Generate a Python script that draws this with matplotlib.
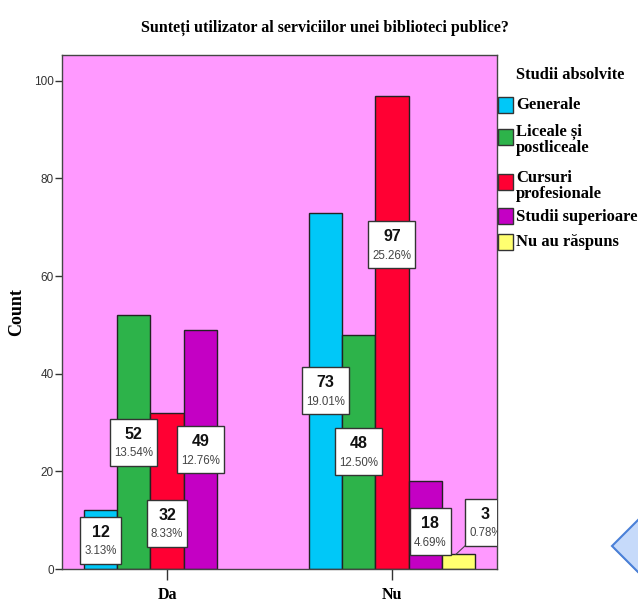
import matplotlib
matplotlib.use("Agg")
import matplotlib.pyplot as plt
from matplotlib.patches import Rectangle, Polygon
from matplotlib.transforms import offset_copy, IdentityTransform
from decimal import Decimal, ROUND_HALF_UP
import numpy as np

# ---- data ----
groups = ["Da", "Nu"]
categories = ["Generale", "Liceale și\npostliceale", "Cursuri\nprofesionale",
              "Studii superioare", "Nu au răspuns"]
counts_da = [12, 52, 32, 49, 0]
counts_nu = [73, 48, 97, 18, 3]
yticks = [0, 20, 40, 60, 80, 100]

# ---- style / layout ----
colors = ["#00C8F8", "#2DB34A", "#FF0033", "#C400C4", "#FFFF70"]
bg = "#FF99FF"
# label anchor heights (data units) and horizontal nudges (data units)
label_y = [[5.9, 26, 9.4, 24.4, None], [36.5, 24, 66.4, 7.6, 9.6]]
label_dx = [[0, 0, 0, 0, 0], [0, 0, 0, 0.022, 0.12]]

W, H = 638, 602
fig = plt.figure(figsize=(W / 100, H / 100), dpi=100)
fig.patch.set_facecolor("white")

L, R, B, T = 62, 497, 569, 55
ax = fig.add_axes([L / W, (H - B) / H, (R - L) / W, (B - T) / H])
ax.set_facecolor(bg)

serif = "Liberation Serif"
sans = "Liberation Sans"

data = [counts_da, counts_nu]
total = sum(counts_da) + sum(counts_nu)
n = len(categories)
bw = 0.74 / n
xg = np.arange(len(groups))
for i in range(n):
    vals = [d[i] for d in data]
    lws = [1 if v > 0 else 0 for v in vals]
    ax.bar(xg + (i - (n - 1) / 2) * bw, vals, width=bw, color=colors[i],
           edgecolor="#222222", linewidth=lws, zorder=2)

ax.set_xlim(-0.467, 1.467)
ax.set_ylim(0, 105.3)
ax.set_yticks(yticks)
ax.set_yticklabels([str(v) for v in yticks], fontsize=8.5, color="#333333",
                   family=sans)
ax.set_xticks(xg)
ax.set_xticklabels(groups, fontsize=11.5, fontweight="bold", family=serif)
ax.tick_params(axis="y", length=5, width=1, color="#333333", pad=1)
ax.tick_params(axis="x", length=8, width=1, color="#333333", pad=5)
for s in ax.spines.values():
    s.set_color("#444444")
    s.set_linewidth(1)
ax.set_ylabel("Count", fontsize=13, fontweight="bold", family=serif)
ax.yaxis.set_label_coords(-0.085, 0.5)

fig.text(325 / W, 1 - 28 / H,
         "Sunteți utilizator al serviciilor unei biblioteci publice?",
         ha="center", va="center", fontsize=11.5, fontweight="bold", family=serif)


def pct(v):
    q = Decimal(v) * 100 / Decimal(total)
    return str(q.quantize(Decimal("0.01"), rounding=ROUND_HALF_UP)) + "%"


# ---- value labels ----
items = []
for g in range(len(groups)):
    for i in range(n):
        v = data[g][i]
        if v == 0:
            continue
        x = xg[g] + (i - (n - 1) / 2) * bw + label_dx[g][i]
        y = label_y[g][i]
        ax.text(x, y, str(v), transform=offset_copy(ax.transData, fig, x=0, y=8, units="dots"),
                ha="center", va="center", fontsize=11.5, fontweight="bold",
                family=sans, color="#111111", zorder=6, clip_on=True)
        t2 = ax.text(x, y, pct(v),
                     transform=offset_copy(ax.transData, fig, x=0, y=-11, units="dots"),
                     ha="center", va="center", fontsize=8.3, family=sans,
                     color="#444444", zorder=6, clip_on=True)
        items.append((x, y, t2, g, i))

fig.canvas.draw()
rend = fig.canvas.get_renderer()
for x, y, t2, g, i in items:
    w = t2.get_window_extent(rend).width + 8
    h = 47
    cx, cy = ax.transData.transform((x, y))
    rect = Rectangle((cx - w / 2, cy - h / 2), w, h, transform=IdentityTransform(),
                     facecolor="white", edgecolor="#333333", linewidth=1, zorder=5)
    ax.add_patch(rect)
    rect.set_clip_path(ax.patch)
    if g == 1 and i == n - 1:
        inv = ax.transData.inverted()
        p0 = inv.transform((cx - w / 2, cy - h / 2))
        bx = xg[g] + (i - (n - 1) / 2) * bw
        ax.plot([p0[0], bx - 0.012], [p0[1], data[g][i]], color="#444444",
                linewidth=0.8, zorder=4)

# ---- legend (manual) ----
fig.text(516 / W, 1 - 75 / H, "Studii absolvite", ha="left", va="center",
         fontsize=11.8, fontweight="bold", family=serif)
sw_y = [105, 137, 182, 216, 242]
txt_y = [105, 140, 186, 217, 242]
for i, lab in enumerate(categories):
    fig.patches.append(Rectangle((498 / W, 1 - (sw_y[i] + 8) / H), 15 / W, 16 / H,
                                 transform=fig.transFigure, facecolor=colors[i],
                                 edgecolor="#333333", linewidth=1, zorder=3))
    fig.text(516 / W, 1 - txt_y[i] / H, lab, ha="left", va="center", fontsize=12,
             fontweight="bold", family=serif, linespacing=1.05)

# ---- decorative diamond ----
pts = [(612, 546), (650, 508), (688, 546), (650, 584)]
shadow = Polygon([((px + 2) / W, 1 - (py + 3) / H) for px, py in pts],
                 closed=True, transform=fig.transFigure, facecolor="#999999",
                 edgecolor="none", zorder=1)
dia = Polygon([(px / W, 1 - py / H) for px, py in pts], closed=True,
              transform=fig.transFigure, facecolor="#C6DAFA",
              edgecolor="#4A80D8", linewidth=1.5, zorder=2)
fig.patches.extend([shadow, dia])

fig.savefig("out.png", dpi=100, facecolor="white")
